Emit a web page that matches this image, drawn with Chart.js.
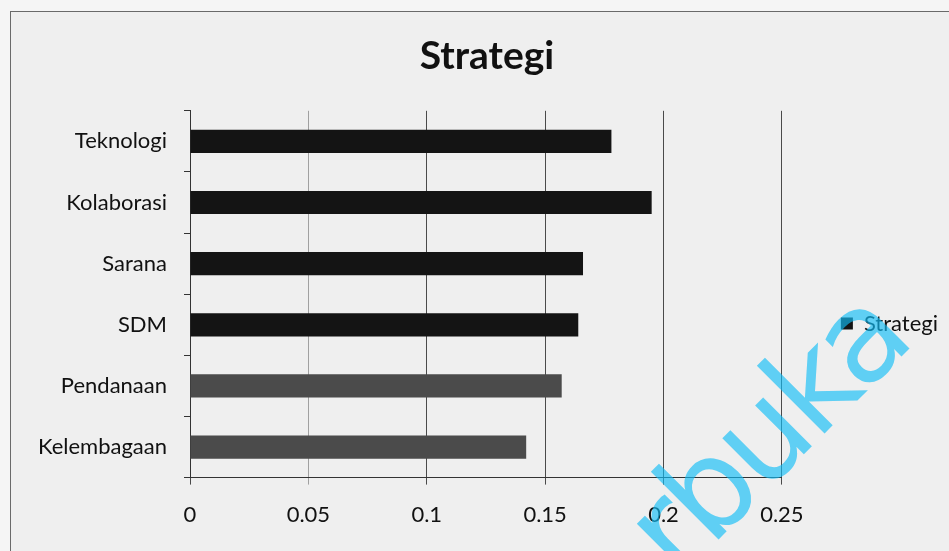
<!DOCTYPE html>
<html>
<head>
<meta charset="utf-8">
<title>Strategi</title>
<script src="https://cdn.jsdelivr.net/npm/chart.js@4.4.1/dist/chart.umd.min.js"></script>
<style>
    html, body {
        margin: 0;
        padding: 0;
        background: #f5f5f5;
    }
    #wrap {
        position: relative;
        width: 949px;
        height: 551px;
        overflow: hidden;
    }
    #frame {
        position: absolute;
        left: 10px;
        top: 11px;
        width: 960px;
        height: 560px;
        border: 1px solid #6a6a6a;
        background: #efefef;
    }
    #chart-box {
        position: absolute;
        left: 0;
        top: 0;
        width: 949px;
        height: 551px;
    }
</style>
</head>
<body>
<div id="wrap">
    <div id="frame"></div>
    <div id="chart-box"><canvas id="strategi-chart"></canvas></div>
</div>
<script>
const categories = ['Teknologi', 'Kolaborasi', 'Sarana', 'SDM', 'Pendanaan', 'Kelembagaan'];
const strategiValues = [0.178, 0.195, 0.166, 0.164, 0.157, 0.142];
const xTickValues = [0, 0.05, 0.1, 0.15, 0.2, 0.25];
const barColors = ['#141414', '#141414', '#141414', '#141414', '#4b4b4b', '#4b4b4b'];

const FONT = 'Lato, "Open Sans", sans-serif';

// the cyan "rbuka" stamp running across the lower right
const stampPlugin = {
    id: 'stamp',
    afterDraw(chart) {
        const ctx = chart.ctx;
        ctx.save();
        ctx.translate(914, 344);
        ctx.rotate(-45 * Math.PI / 180);
        ctx.font = '126px "DejaVu Sans", sans-serif';
        ctx.letterSpacing = '-5px';
        ctx.textAlign = 'right';
        ctx.textBaseline = 'alphabetic';
        ctx.fillStyle = 'rgba(17, 189, 246, 0.65)';
        ctx.fillText('rbuka', 0, 0);
        ctx.restore();
    }
};

// move the legend a bit below the middle of the plot
const legendShift = {
    id: 'legendShift',
    afterLayout(chart) {
        if (chart.legend) {
            chart.legend.top += 45;
            chart.legend.bottom += 45;
        }
    }
};

function createStrategiChart() {
    const ctx = document.getElementById('strategi-chart').getContext('2d');

    return new Chart(ctx, {
        type: 'bar',
        data: {
            labels: categories,
            datasets: [{
                label: 'Strategi',
                data: strategiValues,
                backgroundColor: barColors,
                borderWidth: 0,
                categoryPercentage: 1,
                barPercentage: 0.38
            }]
        },
        options: {
            indexAxis: 'y',
            responsive: true,
            maintainAspectRatio: false,
            animation: false,
            layout: {
                padding: { left: 26, right: 1, top: 12, bottom: 6 }
            },
            plugins: {
                title: {
                    display: true,
                    text: 'Strategi',
                    color: '#111111',
                    font: { family: FONT, size: 39, weight: 'bold' },
                    padding: { top: 21, bottom: 31 }
                },
                legend: {
                    position: 'right',
                    labels: {
                        boxWidth: 12,
                        boxHeight: 12,
                        padding: 59,
                        color: '#111111',
                        font: { family: FONT, size: 22 },
                        generateLabels(chart) {
                            const items = Chart.defaults.plugins.legend.labels.generateLabels(chart);
                            items.forEach(item => {
                                item.fillStyle = '#141414';
                                item.strokeStyle = '#141414';
                                item.lineWidth = 0;
                            });
                            return items;
                        }
                    }
                },
                tooltip: { enabled: false }
            },
            scales: {
                x: {
                    min: 0,
                    max: 0.25,
                    afterBuildTicks(scale) {
                        scale.ticks = xTickValues.map(v => ({ value: v }));
                    },
                    ticks: {
                        color: '#111111',
                        padding: 17,
                        font: { family: FONT, size: 22 },
                        callback: value => String(value)
                    },
                    grid: {
                        // the first line past zero is printed fainter
                        color: c => (c.index === 1 ? '#a0a0a0' : '#4a4a4a'),
                        lineWidth: 1,
                        tickLength: 7
                    },
                    border: { color: '#333333', width: 1 }
                },
                y: {
                    afterFit(scale) {
                        scale.width = 164;
                    },
                    ticks: {
                        color: '#111111',
                        padding: 17,
                        font: { family: FONT, size: 22 }
                    },
                    grid: {
                        drawOnChartArea: false,
                        offset: true,
                        color: '#333333',
                        tickLength: 6
                    },
                    border: { color: '#333333', width: 1 }
                }
            }
        },
        plugins: [legendShift, stampPlugin]
    });
}

document.addEventListener('DOMContentLoaded', () => {
    createStrategiChart();
});
</script>
</body>
</html>
